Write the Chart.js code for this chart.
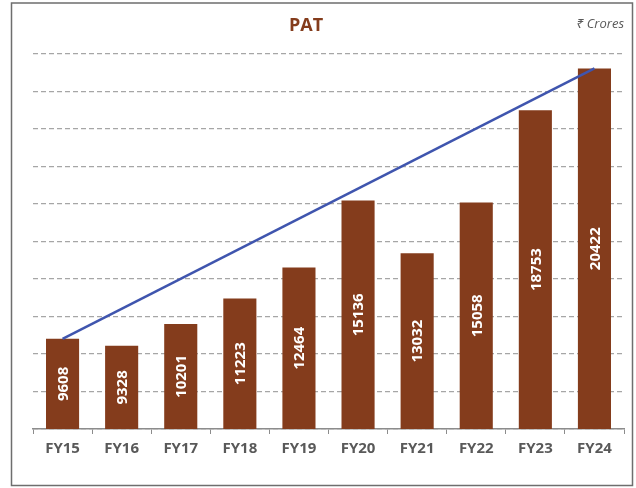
<!DOCTYPE html>
<html>
<head>
<meta charset="utf-8">
<script src="https://cdn.jsdelivr.net/npm/chart.js@4.4.1/dist/chart.umd.min.js"></script>
<style>
  html, body { margin: 0; padding: 0; background: #ffffff; }
  #wrap { position: relative; width: 636px; height: 488px; }
</style>
</head>
<body>
<div id="wrap"><canvas id="graficoPat"></canvas></div>
<script>
// Datos del gráfico
const categorias = ['FY15', 'FY16', 'FY17', 'FY18', 'FY19', 'FY20', 'FY21', 'FY22', 'FY23', 'FY24'];
const valoresPat = [9608, 9328, 10201, 11223, 12464, 15136, 13032, 15058, 18753, 20422];
const valoresTendencia = [9608, null, null, null, null, null, null, null, null, 20422];
const tituloTexto = 'PAT';
const unidadTexto = '₹ Crores';

const colorBarra = '#843C1C';
const colorLinea = '#3F55AE';
const fuente = "'Open Sans', 'Noto Sans', sans-serif";

// Marco, título y unidad
const pluginMarco = {
  id: 'marco',
  beforeDraw(chart) {
    const c = chart.ctx;
    c.save();
    c.fillStyle = '#ffffff';
    c.fillRect(0, 0, chart.width, chart.height);
    c.strokeStyle = '#6E6E6E';
    c.lineWidth = 1.5;
    c.strokeRect(11.5, 3, 621, 482.5);
    c.restore();
  },
  afterDraw(chart) {
    const c = chart.ctx;
    c.save();
    c.textBaseline = 'middle';
    c.fillStyle = colorBarra;
    c.font = "bold 18px " + fuente;
    c.textAlign = 'center';
    c.fillText(tituloTexto, 306, 26);
    c.fillStyle = '#595959';
    c.font = "italic 13px " + fuente;
    c.textAlign = 'right';
    c.fillText(unidadTexto, 624, 24);
    c.restore();
  }
};

// Etiquetas de valor dentro de las barras (rotadas)
const pluginEtiquetas = {
  id: 'etiquetas',
  afterDatasetsDraw(chart) {
    const c = chart.ctx;
    const escalaX = chart.scales.x;
    const escalaY = chart.scales.y;
    const yBase = escalaY.getPixelForValue(escalaY.min);
    c.save();
    c.fillStyle = '#ffffff';
    c.font = "bold 15px " + fuente;
    c.textBaseline = 'middle';
    valoresPat.forEach((valor, i) => {
      const texto = String(valor);
      const ancho = c.measureText(texto).width;
      const x = escalaX.getPixelForValue(i);
      const yTope = escalaY.getPixelForValue(valor);
      const centroY = (yTope + yBase) / 2;
      c.save();
      c.translate(x + 1, centroY);
      c.rotate(-Math.PI / 2);
      c.textAlign = 'left';
      c.fillText(texto, -ancho / 2, 0);
      c.restore();
    });
    c.restore();
  }
};

const ctx = document.getElementById('graficoPat').getContext('2d');

const grafico = new Chart(ctx, {
  type: 'bar',
  data: {
    labels: categorias,
    datasets: [
      {
        type: 'bar',
        label: 'PAT',
        data: valoresPat,
        backgroundColor: colorBarra,
        borderWidth: 0,
        categoryPercentage: 0.8,
        barPercentage: 0.7,
        order: 2
      },
      {
        type: 'line',
        label: 'Tendencia',
        data: valoresTendencia,
        borderColor: colorLinea,
        borderWidth: 2.5,
        pointRadius: 0,
        spanGaps: true,
        fill: false,
        order: 1
      }
    ]
  },
  options: {
    responsive: true,
    maintainAspectRatio: false,
    animation: false,
    layout: {
      padding: { left: 33, right: 12, top: 54, bottom: 24 }
    },
    scales: {
      x: {
        grid: {
          drawOnChartArea: false,
          tickLength: 5,
          color: '#8C8C8C',
          offset: true
        },
        border: { display: true, color: '#8C8C8C', width: 1.5 },
        ticks: {
          color: '#595959',
          font: { family: fuente, size: 15, weight: 'bold' },
          padding: 6
        }
      },
      y: {
        min: 6000,
        max: 21000,
        ticks: { display: false, stepSize: 1500 },
        grid: {
          color: '#A6A6A6',
          lineWidth: 1.3,
          drawTicks: false
        },
        border: { display: false, dash: [5, 3] }
      }
    },
    plugins: {
      legend: { display: false },
      tooltip: { enabled: false }
    }
  },
  plugins: [pluginMarco, pluginEtiquetas]
});
</script>
</body>
</html>
